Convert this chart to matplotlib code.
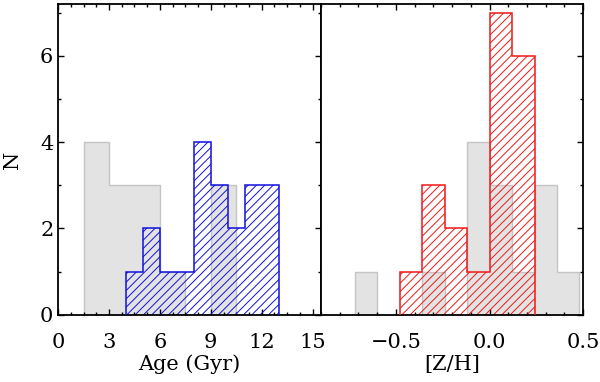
import numpy as np
import matplotlib
matplotlib.use("Agg")
import matplotlib.pyplot as plt
from matplotlib.ticker import MultipleLocator

plt.rcParams['font.family'] = 'DejaVu Serif'
plt.rcParams['hatch.linewidth'] = 0.7

# Age histograms (Gyr)
age_grey_edges = [1.5, 3.0, 4.5, 6.0, 7.5, 9.0, 10.5]
age_grey_counts = [4, 3, 3, 1, 0, 3]
age_blue_edges = [4, 5, 6, 7, 8, 9, 10, 11, 12, 13]
age_blue_counts = [1, 2, 1, 1, 4, 3, 2, 3, 3]

# [Z/H] histograms
zh_grey_edges = [-0.72, -0.60, -0.48, -0.36, -0.24, -0.12, 0.0, 0.12, 0.24, 0.36, 0.48]
zh_grey_counts = [1, 0, 0, 1, 0, 4, 3, 1, 3, 1]
zh_red_edges = [-0.48, -0.36, -0.24, -0.12, 0.0, 0.12, 0.24]
zh_red_counts = [1, 3, 2, 1, 7, 6]

grey_face = '#e3e3e3'
grey_edge = '#c4c4c4'

fig = plt.figure(figsize=(6.0, 3.82), dpi=100)
ax1 = fig.add_axes([0.097, 0.176, 0.438, 0.813])
ax2 = fig.add_axes([0.535, 0.176, 0.437, 0.813])


def draw(ax, g_edges, g_counts, h_edges, h_counts, col):
    ax.stairs(g_counts, g_edges, fill=True, facecolor=grey_face,
              edgecolor=grey_edge, linewidth=1.0, zorder=1)
    ax.stairs(h_counts, h_edges, fill=True, facecolor='none',
              edgecolor=col, hatch='////', linewidth=0.0, zorder=2)
    ax.stairs(h_counts, h_edges, fill=False, color=col,
              linewidth=1.1, baseline=0, zorder=3)


draw(ax1, age_grey_edges, age_grey_counts, age_blue_edges, age_blue_counts, '#1010e0')
draw(ax2, zh_grey_edges, zh_grey_counts, zh_red_edges, zh_red_counts, '#f01818')

for ax in (ax1, ax2):
    ax.set_ylim(0, 7.2)
    ax.yaxis.set_major_locator(MultipleLocator(2))
    ax.yaxis.set_minor_locator(MultipleLocator(1))
    ax.tick_params(which='both', direction='in', top=True, right=True,
                   labelsize=15, width=1.0)
    ax.tick_params(which='major', length=4.0)
    ax.tick_params(which='minor', length=2.2)
    ax.tick_params(axis='x', pad=13)
    for s in ax.spines.values():
        s.set_linewidth(1.3)

ax1.set_xlim(0, 15.5)
ax1.xaxis.set_major_locator(MultipleLocator(3))
ax1.xaxis.set_minor_locator(MultipleLocator(0.75))
ax1.set_xlabel('Age (Gyr)', fontsize=15, labelpad=2)
ax1.set_ylabel('N', fontsize=15, labelpad=13)

ax2.set_xlim(-0.9, 0.5)
ax2.xaxis.set_major_locator(MultipleLocator(0.5))
ax2.xaxis.set_minor_locator(MultipleLocator(0.1))
ax2.set_xticks([-0.5, 0.0, 0.5])
ax2.set_xticklabels(['\u22120.5', '0.0', '0.5'])
ax2.tick_params(which='both', left=False, labelleft=False)
ax2.set_xlabel('[Z/H]', fontsize=15, labelpad=2)

fig.savefig('out.png', dpi=100)
